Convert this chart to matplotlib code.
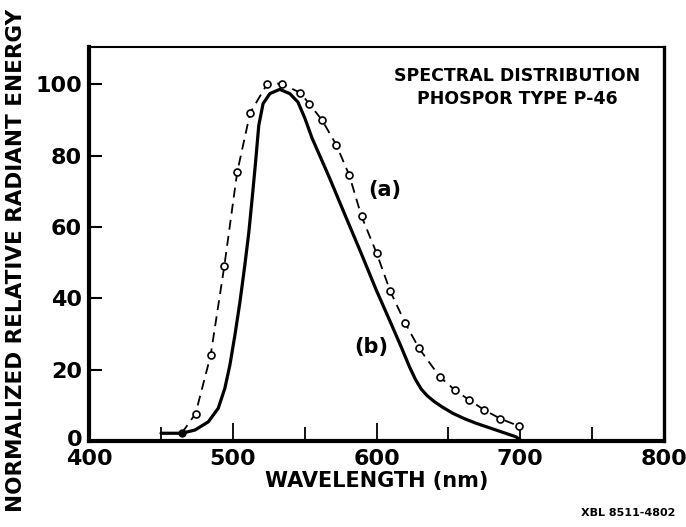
import matplotlib
matplotlib.use("Agg")
import matplotlib.pyplot as plt
from matplotlib.ticker import MultipleLocator
from matplotlib.transforms import ScaledTranslation

# Curve (b): solid line
b_wl = [450, 464.4, 473.6, 482.9, 489.8, 494.4, 497.9, 501.4, 504.9, 508.3, 511.1, 513.4, 515.8, 518,
        521, 525.7, 532.6, 539.6, 545.3, 550, 555, 561, 567, 578, 589, 599.8, 609, 617.1, 622.9,
        627, 631, 635, 640, 645.5, 653, 661, 669.2, 683.1, 697, 700]
b_val = [2.2, 2.2, 3.1, 5.4, 9.2, 14.8, 21.3, 29.7, 39, 49.3, 58.6, 68, 78.3, 88.5,
         94.6, 97.4, 98.6, 97.4, 95, 90.6, 85, 79.5, 74, 63.4, 52.9, 42.3, 33.9, 26.4, 20.8,
         17.3, 14.6, 12.8, 11.1, 9.6, 7.8, 6.3, 5, 3.1, 1.2, 0.3]

# Curve (a): dashed line with open circles
a_wl = [464.4, 474, 484.5, 494, 503, 512, 524, 534, 547, 553, 562, 572, 581, 589.5, 600, 609.5,
        620, 629.5, 644, 654.5, 664.5, 675, 686, 699]
a_val = [2.2, 7.7, 24, 49, 75.4, 92, 100.2, 100.2, 97.6, 94.6, 90, 83, 74.5, 63, 52.7, 42,
         33, 26, 18, 14.3, 11.5, 8.7, 6.3, 4.2]

x_ticks = [400, 500, 600, 700, 800]
y_ticks = [0, 20, 40, 60, 80, 100]

plt.rcParams['font.family'] = ['DejaVu Sans']
plt.rcParams['font.weight'] = 'bold'

fig = plt.figure(figsize=(6.86, 5.27), dpi=100)
ax = fig.add_axes([0.130, 0.163, 0.838, 0.748])

ax.plot(b_wl, b_val, color='black', lw=2.3, solid_capstyle='round', solid_joinstyle='round', zorder=3)
ax.plot(a_wl, a_val, color='black', lw=1.3, linestyle=(0, (5.5, 3.5)), zorder=3)
ax.plot(a_wl[1:], a_val[1:], linestyle='none', marker='o', ms=5, mfc='white', mec='black', mew=1.2, zorder=4)
ax.plot([a_wl[0]], [a_val[0]], marker='o', ms=5, color='black', zorder=4)

ax.set_xlim(400, 800)
ax.set_ylim(0, 110.5)
ax.set_xticks(x_ticks)
ax.set_yticks(y_ticks)
ax.xaxis.set_minor_locator(MultipleLocator(50))
ax.tick_params(axis='x', which='major', direction='in', length=13, width=1.3, labelsize=16, pad=6)
ax.tick_params(axis='x', which='minor', direction='in', length=10, width=1.3)
ax.tick_params(axis='y', which='major', direction='in', length=9, width=1.5, labelsize=16, pad=5)
for lab in ax.get_xticklabels() + ax.get_yticklabels():
    lab.set_fontweight('bold')

# nudge the "0" label up a little so it sits just above "400", as in the original
zero_lbl = ax.yaxis.get_major_ticks()[0].label1
zero_lbl.set_transform(zero_lbl.get_transform() + ScaledTranslation(0, 0.035, fig.dpi_scale_trans))

ax.spines['left'].set_linewidth(3.0)
ax.spines['bottom'].set_linewidth(3.0)
ax.spines['right'].set_linewidth(2.4)
ax.spines['top'].set_linewidth(1.5)

ax.set_xlabel('WAVELENGTH (nm)', fontsize=15, fontweight='bold', labelpad=1)
fig.text(0.024, 0.505, 'NORMALIZED RELATIVE RADIANT ENERGY', rotation=90, ha='center', va='center',
         fontsize=15.5, fontweight='bold')

ax.text(0.745, 0.95, 'SPECTRAL DISTRIBUTION\nPHOSPOR TYPE P-46', transform=ax.transAxes, ha='center', va='top',
        fontsize=12.5, fontweight='bold', linespacing=1.35)
ax.text(606, 70.5, '(a)', fontsize=15, fontweight='bold', ha='center', va='center')
ax.text(596, 26.5, '(b)', fontsize=15, fontweight='bold', ha='center', va='center')
fig.text(0.915, 0.027, 'XBL 8511-4802', ha='center', va='center', fontsize=8, fontweight='bold')

fig.savefig('out.png', dpi=100)
